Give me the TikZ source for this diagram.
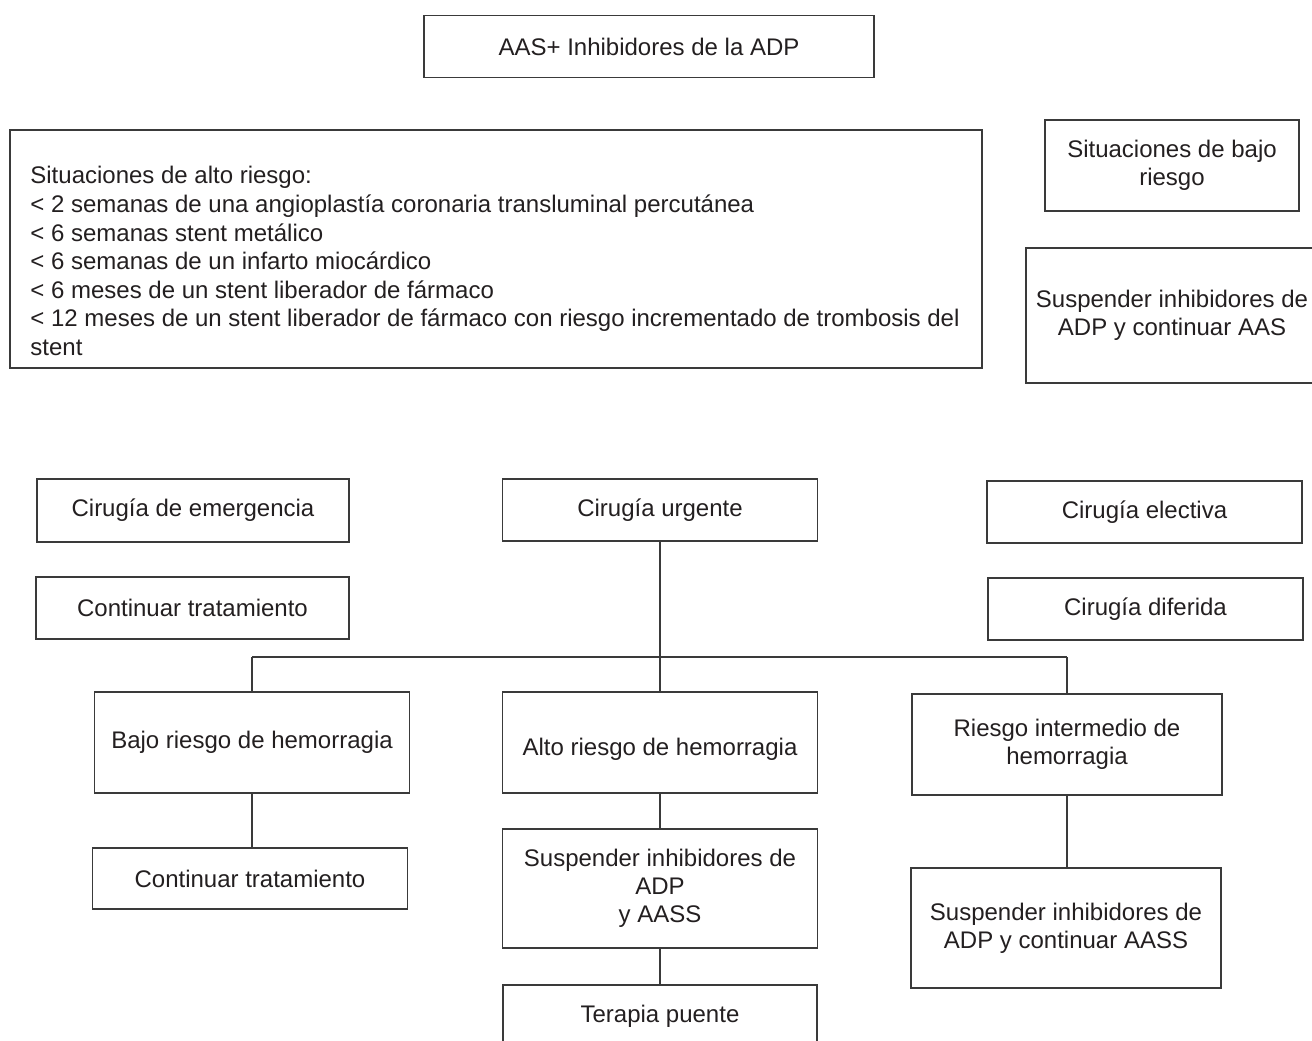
\documentclass[tikz,border=0pt]{standalone}
\usepackage{fontspec}
\setmainfont{Liberation Sans}
\definecolor{boxline}{HTML}{3A3A3A}
\definecolor{boxtext}{HTML}{231F20}

\begin{document}
\begin{tikzpicture}[x=0.5pt,y=-0.5pt]
\useasboundingbox (0,0) rectangle (1312,1040);
\begin{scope}[every node/.style={rectangle,draw=boxline,line width=0.75pt,text=boxtext,
              font=\fontsize{12}{14}\selectfont,align=center,inner sep=0pt}]
    \node[minimum width=225pt,minimum height=31pt] (AAS) at (649,46.5) {AAS+ Inhibidores de la ADP};
    \node[minimum width=486pt,minimum height=119pt] (AltoR) at (496,249) {};
    \node[minimum width=127pt,minimum height=45.5pt] (BajoR) at (1172,165.5) {Situaciones de bajo\\riesgo};
    \node[minimum width=146pt,minimum height=67.5pt] (SuspAAS) at (1172,315.5) {Suspender inhibidores de\\ADP y continuar AAS};
    \node[minimum width=156pt,minimum height=31.5pt] (Emerg) at (193,510.5) {Cirugía de emergencia};
    \node[minimum width=157.5pt,minimum height=31pt] (Urgente) at (660,510) {Cirugía urgente};
    \node[minimum width=157.5pt,minimum height=31pt] (Electiva) at (1144.5,512) {Cirugía electiva};
    \node[minimum width=156.5pt,minimum height=31pt] (ContTop) at (192.5,608) {Continuar tratamiento};
    \node[minimum width=157.5pt,minimum height=31pt] (Diferida) at (1145.5,609) {Cirugía diferida};
    \node[minimum width=157.5pt,minimum height=50.5pt] (BajoHem) at (252,742.5) {Bajo riesgo de hemorragia};
    \node[minimum width=157.5pt,minimum height=50.5pt,text height=15pt] (AltoHem) at (660,742.5) {Alto riesgo de hemorragia};
    \node[minimum width=155pt,minimum height=50.5pt] (InterHem) at (1067,744.5) {Riesgo intermedio de\\hemorragia};
    \node[minimum width=157.5pt,minimum height=30.5pt] (ContBot) at (250,878.5) {Continuar tratamiento};
    \node[minimum width=157.5pt,minimum height=59.5pt] (SuspAASS) at (660,888.5) {Suspender inhibidores de\\ADP\\y AASS};
    \node[minimum width=155pt,minimum height=60pt] (SuspInt) at (1066,928) {Suspender inhibidores de\\ADP y continuar AASS};
    \node[minimum width=157pt,minimum height=31pt] (Terapia) at (660,1016) {Terapia puente};
\end{scope}

% lista de situaciones de alto riesgo
\node[anchor=north west,align=left,inner sep=0pt,text=boxtext,font=\fontsize{12}{14.3}\selectfont] (AltoTxt) at (30,166)
    {Situaciones de alto riesgo:\\
     < 2 semanas de una angioplastía coronaria transluminal percutánea\\
     < 6 semanas stent metálico\\
     < 6 semanas de un infarto miocárdico\\
     < 6 meses de un stent liberador de fármaco\\
     < 12 meses de un stent liberador de fármaco con riesgo incrementado de trombosis del\\
     stent};

\coordinate (Bar) at (660,657);

\begin{scope}[every edge/.style={draw=boxline,line width=0.75pt}]
    \path [-] (Urgente.south) edge (AltoHem.north);
    \path [-] (BajoHem.north) edge (BajoHem.north |- Bar);
    \path [-] (BajoHem.north |- Bar) edge (InterHem.north |- Bar);
    \path [-] (InterHem.north |- Bar) edge (InterHem.north);
    \path [-] (BajoHem.south) edge (BajoHem.south |- ContBot.north);
    \path [-] (AltoHem.south) edge (SuspAASS.north);
    \path [-] (SuspAASS.south) edge (Terapia.north);
    \path [-] (InterHem.south) edge (InterHem.south |- SuspInt.north);
\end{scope}
\end{tikzpicture}
\end{document}
